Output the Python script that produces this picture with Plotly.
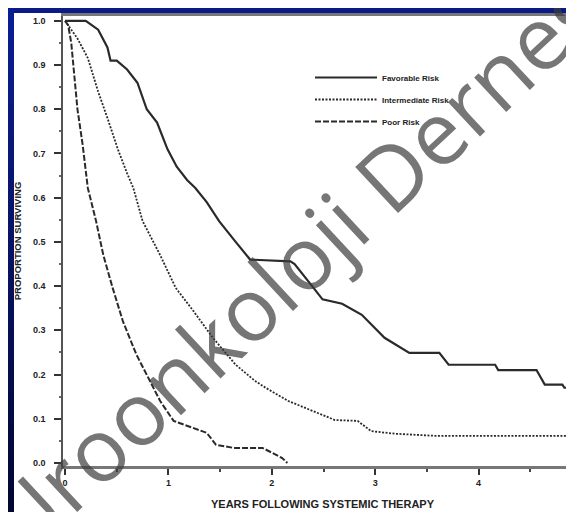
import plotly.graph_objects as go

# ---- data ----
fav_t = [0, 0.2, 0.32, 0.41, 0.44, 0.5, 0.6, 0.7, 0.79, 0.89, 0.99, 1.08, 1.18, 1.26, 1.37, 1.49, 1.65, 1.79,
         2.18, 2.22, 2.39, 2.49, 2.68, 2.87, 3.09, 3.28, 3.33, 3.62, 3.71, 4.16, 4.19, 4.56, 4.64, 4.81, 4.83, 5.0]
fav_s = [1.0, 1.0, 0.98, 0.94, 0.91, 0.91, 0.89, 0.86, 0.80, 0.77, 0.71, 0.67, 0.64, 0.622, 0.59, 0.547, 0.50, 0.46,
         0.456, 0.45, 0.40, 0.37, 0.36, 0.335, 0.283, 0.255, 0.249, 0.249, 0.222, 0.222, 0.21, 0.21, 0.177, 0.177, 0.17, 0.17]

int_t = [0, 0.03, 0.12, 0.22, 0.32, 0.41, 0.51, 0.60, 0.66, 0.75, 0.92, 1.07, 1.24, 1.43, 1.65, 1.84, 1.94,
         2.16, 2.39, 2.61, 2.83, 2.96, 3.19, 3.6, 5.0]
int_s = [1.0, 0.99, 0.96, 0.916, 0.84, 0.78, 0.71, 0.655, 0.622, 0.547, 0.47, 0.396, 0.344, 0.283, 0.222, 0.185, 0.17,
         0.14, 0.118, 0.097, 0.095, 0.072, 0.066, 0.061, 0.061]

poor_t = [0, 0.03, 0.06, 0.09, 0.12, 0.17, 0.22, 0.30, 0.37, 0.46, 0.56, 0.69, 0.82, 0.92, 1.05, 1.24, 1.37,
          1.46, 1.63, 1.91, 1.97, 2.10, 2.15]
poor_s = [1.0, 0.99, 0.95, 0.88, 0.80, 0.72, 0.622, 0.547, 0.47, 0.396, 0.32, 0.245, 0.185, 0.14, 0.095, 0.08, 0.068,
          0.041, 0.034, 0.034, 0.027, 0.011, 0.0]

series_names = ["Favorable Risk", "Intermediate Risk", "Poor Risk"]
x_ticks = [0, 1, 2, 3, 4, 5]
y_ticks = [0.0, 0.1, 0.2, 0.3, 0.4, 0.5, 0.6, 0.7, 0.8, 0.9, 1.0]

W, H = 574, 512
ML, MR, MT, MB = 55, 0, 8, 54
PW, PH = W - ML - MR, H - MT - MB

fig = go.Figure()
line_col = "#2a2a2a"
for t, s, name, dash, wd, g in [(fav_t, fav_s, series_names[0], "solid", 2.2, "a"),
                                (int_t, int_s, series_names[1], "2px,1.5px", 1.8, "b"),
                                (poor_t, poor_s, series_names[2], "6px,2px", 2, "c")]:
    fig.add_trace(go.Scatter(x=t, y=s, mode="lines", name=name, legendgroup=g,
                             line=dict(color=line_col, width=wd, dash=dash)))

tick_font = dict(family="Liberation Sans", size=9, color="#222", weight="bold")

fig.update_layout(
    width=W, height=H,
    margin=dict(l=ML, r=MR, t=MT, b=MB, pad=0),
    paper_bgcolor="white", plot_bgcolor="white",
    showlegend=True,
    legend=dict(x=(302 - ML) / PW, y=1 - (55 - MT) / PH, xanchor="left", yanchor="top",
                bgcolor="rgba(0,0,0,0)", font=dict(family="Liberation Sans", size=8, color="#222", weight="bold"),
                tracegroupgap=3, itemwidth=62),
    xaxis=dict(range=[-0.02, 5.0], tickvals=x_ticks, ticktext=[str(v) for v in x_ticks],
               showgrid=False, zeroline=False, showline=True, linecolor="#777", linewidth=3,
               mirror=True, ticks="outside", ticklen=6, tickwidth=1.5, tickcolor="#333",
               tickfont=tick_font,
               minor=dict(dtick=0.5, ticks="outside", ticklen=3, tickcolor="#444", tickwidth=1.5),
               title=dict(text="YEARS FOLLOWING SYSTEMIC THERAPY", standoff=14,
                          font=dict(family="Liberation Sans", size=11, color="#222", weight="bold"))),
    yaxis=dict(range=[-0.007, 1.011], tickvals=y_ticks, ticktext=["%.1f" % v for v in y_ticks],
               showgrid=False, zeroline=False, showline=True, linecolor="#555", linewidth=1.5,
               ticks="outside", ticklen=7, tickwidth=1.5, tickcolor="#333",
               tickfont=tick_font, ticklabelstandoff=7,
               minor=dict(dtick=0.05, ticks="outside", ticklen=2, tickcolor="#666", tickwidth=1.5),
               title=dict(text="PROPORTION SURVIVING", standoff=10,
                          font=dict(family="Liberation Sans", size=9.5, color="#222", weight="bold"))),
)

# watermark
fig.add_annotation(text="Uroonkoloji Derneği", xref="paper", yref="paper",
                   x=(295 - ML) / PW, y=1 - (247 - MT) / PH, xanchor="center", yanchor="middle",
                   textangle=-43, showarrow=False,
                   font=dict(family="Open Sans", size=88, color="rgba(60,60,60,0.7)"))

# blue frame strips (slide background)
def px_x(p):
    return (p - ML) / PW

def px_y(p):
    return 1 - (p - MT) / PH

fig.add_shape(type="rect", xref="paper", yref="paper", x0=px_x(0), x1=px_x(W), y0=px_y(0), y1=px_y(5),
              line=dict(width=0), fillcolor="#0b1a86", layer="above")
n = 16
top = (11, 30, 145)
bot = (3, 8, 50)
for i in range(n):
    f = i / (n - 1)
    c = tuple(int(top[k] + (bot[k] - top[k]) * f) for k in range(3))
    fig.add_shape(type="rect", xref="paper", yref="paper", x0=px_x(0), x1=px_x(6),
                  y0=px_y(H * (i + 1) / n + 1), y1=px_y(H * i / n),
                  line=dict(width=0), fillcolor="rgb(%d,%d,%d)" % c, layer="above")

fig.write_html("out.html")
